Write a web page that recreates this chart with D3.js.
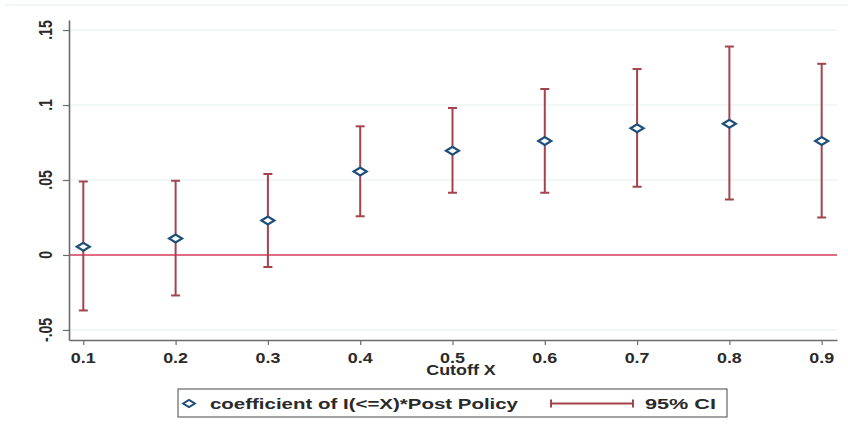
<!DOCTYPE html>
<html>
<head>
<meta charset="utf-8">
<script src="https://cdn.jsdelivr.net/npm/d3@7"></script>
<style>
  body { margin: 0; background: #fff; }
  svg { display: block; font-family: "Liberation Sans", Arial, sans-serif; }
</style>
</head>
<body>
<svg id="chart" width="848" height="433"></svg>
<script>
// values
const cutoffs = [0.1, 0.2, 0.3, 0.4, 0.5, 0.6, 0.7, 0.8, 0.9];
const coef    = [0.0055, 0.011, 0.023, 0.0557, 0.0695, 0.076, 0.0845, 0.0875, 0.076];
const ciLow   = [-0.037, -0.027, -0.008, 0.0258, 0.0415, 0.0415, 0.0455, 0.037, 0.025];
const ciHigh  = [0.049, 0.0495, 0.054, 0.0858, 0.098, 0.1107, 0.124, 0.139, 0.1275];
const yTicks  = [-0.05, 0, 0.05, 0.1, 0.15];
const yLabels = ["-.05", "0", ".05", ".1", ".15"];
const xLabels = ["0.1", "0.2", "0.3", "0.4", "0.5", "0.6", "0.7", "0.8", "0.9"];
const xTitle = "Cutoff X";
const legendCoef = "coefficient of I(<=X)*Post Policy";
const legendCI = "95% CI";

const navy = "#1f4e79", maroon = "#a3434c", zeroCol = "#d63a5c", ink = "#2a2a2a";
const stretch = 1.28; // the reference is squeezed wide

const svg = d3.select("#chart");
const x = d3.scaleLinear().domain([0.0845, 0.9166]).range([69, 837]);
const y = d3.scaleLinear().domain([-0.0567, 0.1567]).range([340, 20]);

// outer frame line
svg.append("line").attr("x1", 5).attr("x2", 848).attr("y1", 5).attr("y2", 5)
  .attr("stroke", "#edf3f4").attr("stroke-width", 1.5);

// gridlines
svg.append("g").selectAll("line")
  .data(yTicks.filter(d => d !== 0))
  .enter().append("line")
  .attr("x1", 69).attr("x2", 837)
  .attr("y1", d => y(d)).attr("y2", d => y(d))
  .attr("stroke", "#edf4f5").attr("stroke-width", 1.5);

// zero line
svg.append("line").attr("x1", 69).attr("x2", 837)
  .attr("y1", y(0)).attr("y2", y(0))
  .attr("stroke", zeroCol).attr("stroke-width", 1.6);

// axes
const yAxis = svg.append("g").attr("transform", "translate(69,0)")
  .call(d3.axisLeft(y).tickValues(yTicks).tickSize(6).tickSizeOuter(0).tickFormat(""));
const xAxis = svg.append("g").attr("transform", "translate(0,340)")
  .call(d3.axisBottom(x).tickValues(cutoffs).tickSize(5).tickSizeOuter(0).tickFormat(""));
[yAxis, xAxis].forEach(g => {
  g.select(".domain").attr("stroke", "#6b6b6b").attr("stroke-width", 1.6);
  g.selectAll(".tick line").attr("stroke", "#6b6b6b").attr("stroke-width", 1.2);
});

// tick labels (stretched horizontally like the reference)
svg.append("g").selectAll("text")
  .data(yTicks)
  .enter().append("text")
  .attr("transform", d => `translate(52,${y(d)}) scale(${stretch},1) rotate(-90)`)
  .attr("text-anchor", "middle")
  .attr("font-size", 14).attr("font-weight", "bold").attr("fill", ink)
  .text((d, i) => yLabels[i]);

svg.append("g").selectAll("text")
  .data(cutoffs)
  .enter().append("text")
  .attr("transform", d => `translate(${x(d)},362.5) scale(${stretch},1)`)
  .attr("text-anchor", "middle")
  .attr("font-size", 14).attr("font-weight", "bold").attr("fill", ink)
  .text((d, i) => xLabels[i]);

svg.append("text")
  .attr("transform", `translate(461,375) scale(${stretch},1)`)
  .attr("text-anchor", "middle")
  .attr("font-size", 14).attr("font-weight", "bold").attr("fill", ink)
  .text(xTitle);

// confidence intervals
const ci = svg.append("g").attr("stroke", maroon).attr("stroke-width", 2);
cutoffs.forEach((c, i) => {
  const cx = x(c);
  ci.append("line").attr("x1", cx).attr("x2", cx).attr("y1", y(ciLow[i])).attr("y2", y(ciHigh[i]));
  ci.append("line").attr("x1", cx - 4.5).attr("x2", cx + 4.5).attr("y1", y(ciLow[i])).attr("y2", y(ciLow[i]));
  ci.append("line").attr("x1", cx - 4.5).attr("x2", cx + 4.5).attr("y1", y(ciHigh[i])).attr("y2", y(ciHigh[i]));
});

// diamond markers
const diamond = "M-6.5,0L0,-4L6.5,0L0,4Z";
svg.append("g").selectAll("path")
  .data(cutoffs)
  .enter().append("path")
  .attr("d", diamond)
  .attr("transform", (d, i) => `translate(${x(d)},${y(coef[i])})`)
  .attr("fill", "#fff").attr("stroke", navy).attr("stroke-width", 2.2);

// legend
const leg = svg.append("g");
leg.append("rect").attr("x", 178).attr("y", 389).attr("width", 549).attr("height", 28)
  .attr("fill", "#fff").attr("stroke", "#666").attr("stroke-width", 1.2);
leg.append("path").attr("d", diamond).attr("transform", "translate(189,403.5) scale(0.9)")
  .attr("fill", "#fff").attr("stroke", navy).attr("stroke-width", 2.2);
leg.append("text").attr("x", 210).attr("y", 408.5)
  .attr("textLength", 308).attr("lengthAdjust", "spacingAndGlyphs")
  .attr("font-size", 14.5).attr("font-weight", "bold").attr("fill", ink).text(legendCoef);
leg.append("line").attr("x1", 551).attr("x2", 633).attr("y1", 403.5).attr("y2", 403.5)
  .attr("stroke", maroon).attr("stroke-width", 2);
[551, 633].forEach(px => leg.append("line").attr("x1", px).attr("x2", px)
  .attr("y1", 399.5).attr("y2", 407.5).attr("stroke", maroon).attr("stroke-width", 2));
leg.append("text").attr("x", 645).attr("y", 408.5)
  .attr("textLength", 71).attr("lengthAdjust", "spacingAndGlyphs")
  .attr("font-size", 14.5).attr("font-weight", "bold").attr("fill", ink).text(legendCI);
</script>
</body>
</html>
